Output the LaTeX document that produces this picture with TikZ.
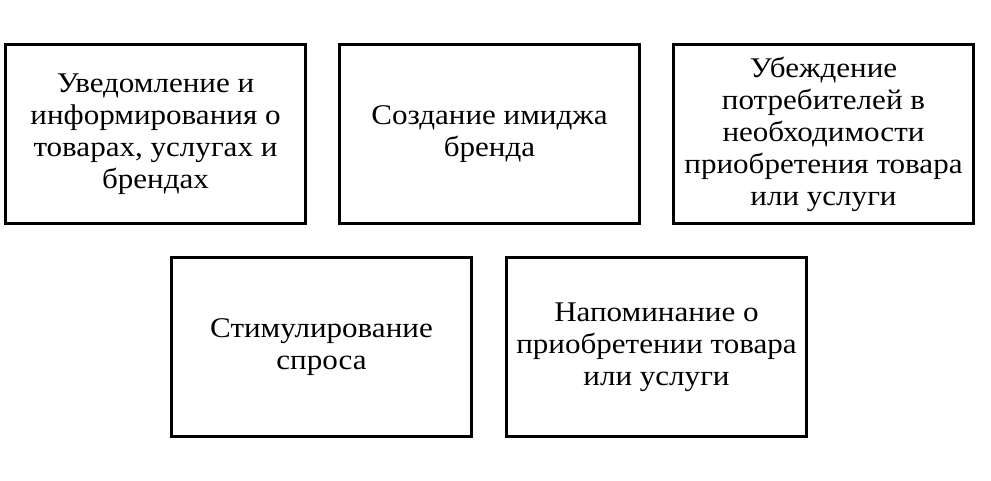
\documentclass[tikz,border=0pt]{standalone}
\usepackage{fontspec}
\setmainfont{Liberation Serif}[FakeStretch=1.09]
\usetikzlibrary{positioning}

\begin{document}
\begin{tikzpicture}[on grid,thin]
\tikzstyle{box}=[draw,line width=3pt,fill=white,text=black,minimum width=300pt,minimum height=179pt,inner sep=0pt,align=center,font=\fontsize{28.5}{32}\selectfont]

\useasboundingbox (0,0) rectangle (991pt,481pt);

\node[box]        (A) at (155.5pt,347pt) {Уведомление и\\информирования о\\товарах, услугах и\\брендах};
\node[box]        (B) [right=334pt of A] {Создание имиджа\\бренда};
\node[box]        (C) [right=334pt of B] {Убеждение\\потребителей в\\необходимости\\приобретения товара\\или услуги};
\node[box]        (D) [below right=213pt and 166pt of A] {Стимулирование\\спроса};
\node[box]        (E) [right=335pt of D] {Напоминание о\\приобретении товара\\или услуги};
\end{tikzpicture}
\end{document}
